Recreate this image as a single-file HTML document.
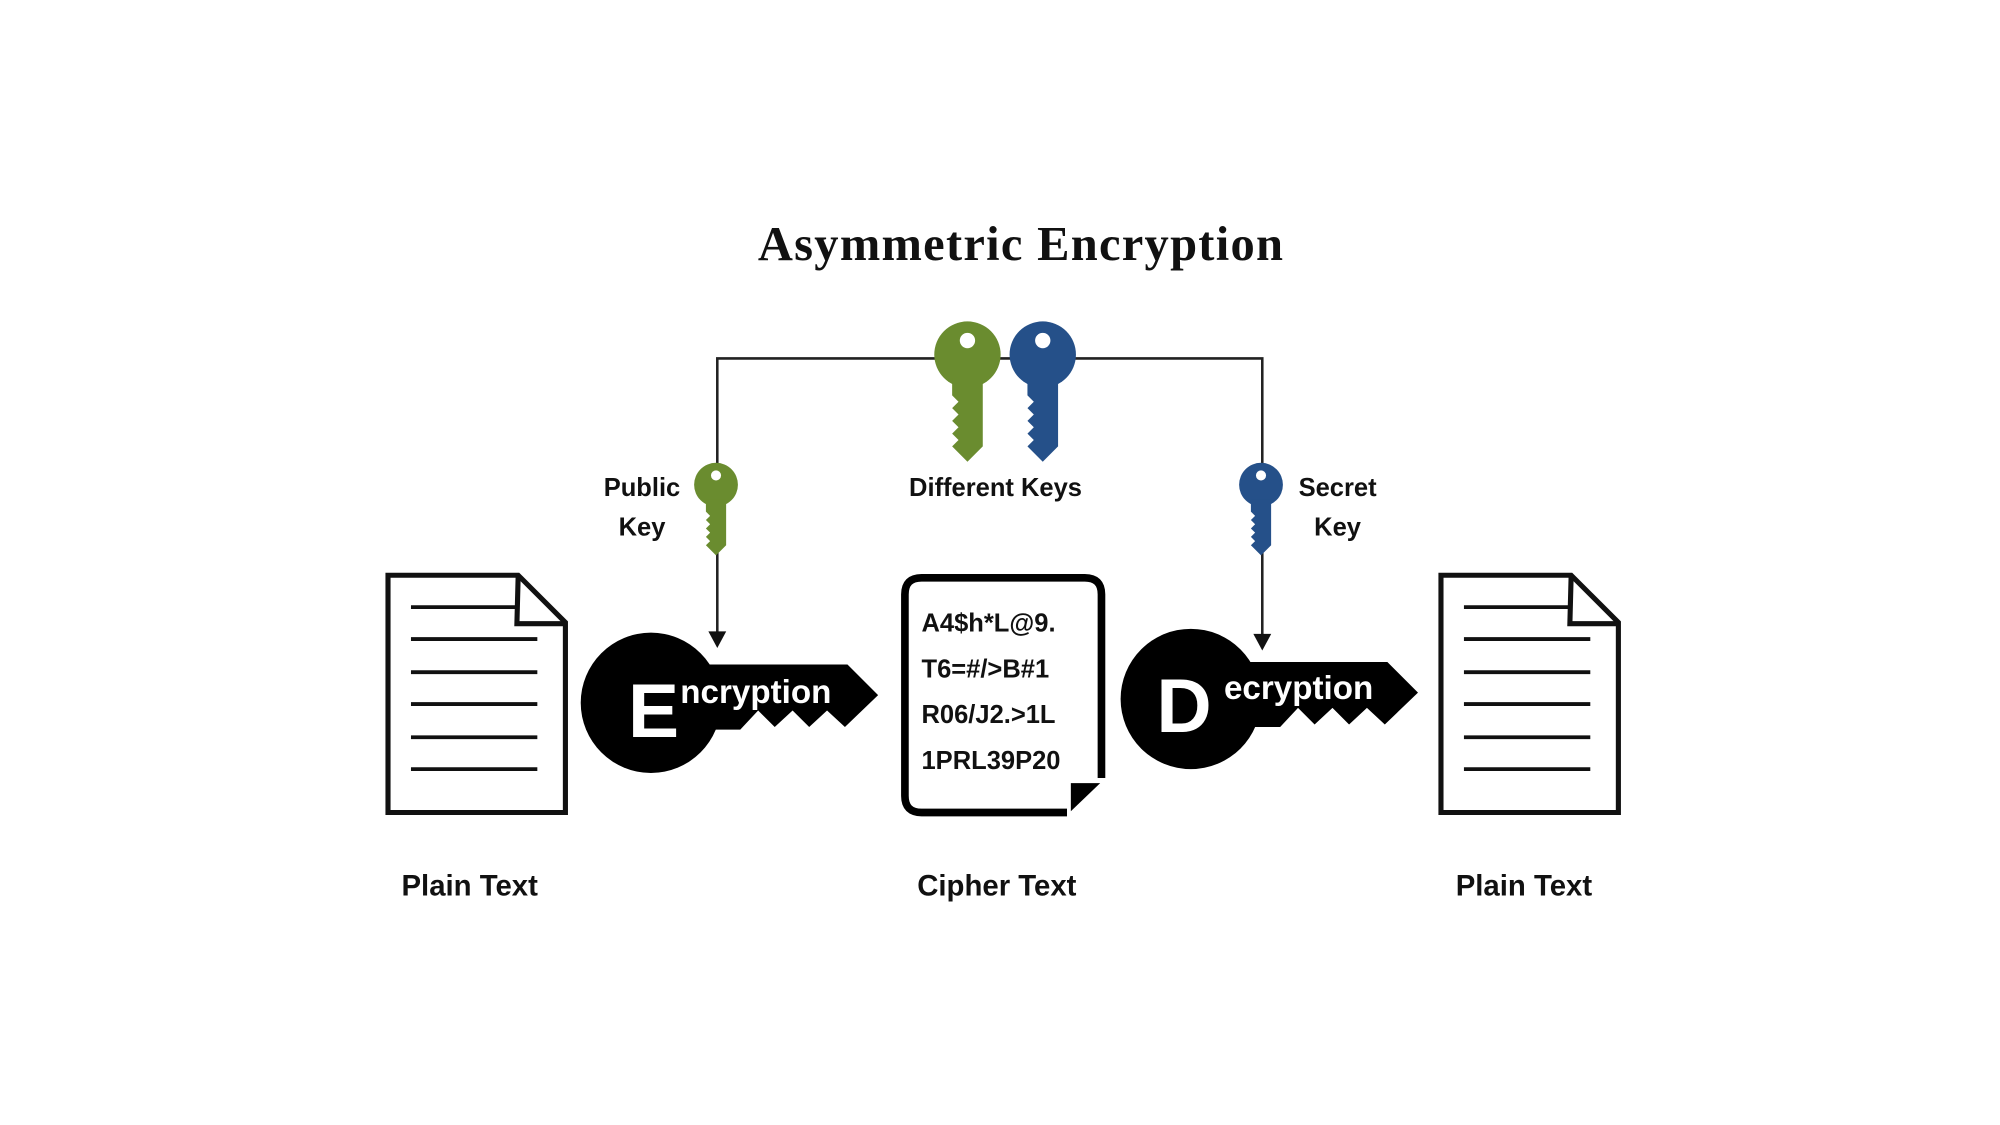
<!DOCTYPE html>
<html><head><meta charset="utf-8"><style>
html,body{margin:0;padding:0;background:#fff;}
svg{display:block;}
</style></head><body>
<svg width="2000" height="1125" viewBox="0 0 1567 882" preserveAspectRatio="none" xmlns="http://www.w3.org/2000/svg">
<rect width="1567" height="882" fill="#fff"/>
<text x="800" y="204" text-anchor="middle" font-family="Liberation Serif, serif" font-weight="bold" font-size="38" letter-spacing="1" fill="#111">Asymmetric  Encryption</text>

<path d="M562,503 L562,281 L989,281 L989,505" fill="none" stroke="#222" stroke-width="2"/>
<polygon points="555,495 569,495 562,508" fill="#111"/>
<polygon points="982,497 996,497 989,510" fill="#111"/>

<defs>
<g id="key">
<circle cx="0" cy="0" r="26"/>
<path d="M-12,18 L12,18 L12,72 L0,84 L-12,72 L-7,67 L-12,62 L-7,57 L-12,52 L-7,47 L-12,42 L-7,37 L-12,32 Z"/>
<circle cx="0" cy="-11" r="6" fill="#fff"/>
</g>
</defs>
<g fill="#6a8c2f"><use href="#key" transform="translate(758,278)"/></g>
<g fill="#255089"><use href="#key" transform="translate(817,278)"/></g>
<g fill="#6a8c2f"><use href="#key" transform="translate(561,380) scale(0.66)"/></g>
<g fill="#255089"><use href="#key" transform="translate(988,380) scale(0.66)"/></g>

<g font-family="Liberation Sans, sans-serif" font-weight="bold" font-size="20" fill="#111" text-anchor="middle">
<text x="503" y="389">Public</text><text x="503" y="420">Key</text>
<text x="780" y="389">Different Keys</text>
<text x="1048" y="389">Secret</text><text x="1048" y="420">Key</text>
</g>

<g fill="none" stroke="#111" stroke-width="4">
<path d="M304,451 L406,451 L443,488 L443,637 L304,637 Z"/>
<path d="M406,451 L405,489 L443,489"/>
<path d="M1129,451 L1231,451 L1268,488 L1268,637 L1129,637 Z"/>
<path d="M1231,451 L1230,489 L1268,489"/>
</g>
<g stroke="#111" stroke-width="3">
<line x1="322" y1="476" x2="405" y2="476"/><line x1="322" y1="501" x2="421" y2="501"/><line x1="322" y1="527" x2="421" y2="527"/><line x1="322" y1="552" x2="421" y2="552"/><line x1="322" y1="578" x2="421" y2="578"/><line x1="322" y1="603" x2="421" y2="603"/>
<line x1="1147" y1="476" x2="1230" y2="476"/><line x1="1147" y1="501" x2="1246" y2="501"/><line x1="1147" y1="527" x2="1246" y2="527"/><line x1="1147" y1="552" x2="1246" y2="552"/><line x1="1147" y1="578" x2="1246" y2="578"/><line x1="1147" y1="603" x2="1246" y2="603"/>
</g>

<g fill="#000">
<circle cx="510" cy="551" r="55"/>
<path d="M545,521 L664,521 L688,545 L662,570 L648,557 L634,570 L621,557 L607,570 L594,557 L580,572 L545,572 Z"/>
<circle cx="933" cy="548" r="55"/>
<path d="M968,519 L1087,519 L1111,543 L1085,568 L1071,555 L1057,568 L1044,555 L1030,568 L1017,555 L1003,570 L968,570 Z"/>
</g>
<g font-family="Liberation Sans, sans-serif" font-weight="bold" fill="#fff">
<text x="492" y="578" font-size="60">E</text>
<text x="533" y="551" font-size="26">ncryption</text>
<text x="906" y="574" font-size="60">D</text>
<text x="959" y="548" font-size="26">ecryption</text>
</g>

<path d="M836,637 L722,637 Q709,637 709,624 L709,466 Q709,453 722,453 L850,453 Q863,453 863,466 L863,610" fill="none" stroke="#000" stroke-width="6"/>
<polygon points="839,614 862,614 839,636" fill="#000"/>
<g font-family="Liberation Sans, sans-serif" font-weight="bold" font-size="20" fill="#111">
<text x="722" y="495">A4$h*L@9.</text>
<text x="722" y="531">T6=#/&gt;B#1</text>
<text x="722" y="567">R06/J2.&gt;1L</text>
<text x="722" y="603">1PRL39P20</text>
</g>

<g font-family="Liberation Sans, sans-serif" font-weight="bold" font-size="23" fill="#111" text-anchor="middle">
<text x="368" y="702">Plain Text</text>
<text x="781" y="702">Cipher Text</text>
<text x="1194" y="702">Plain Text</text>
</g>
</svg>
</body></html>
